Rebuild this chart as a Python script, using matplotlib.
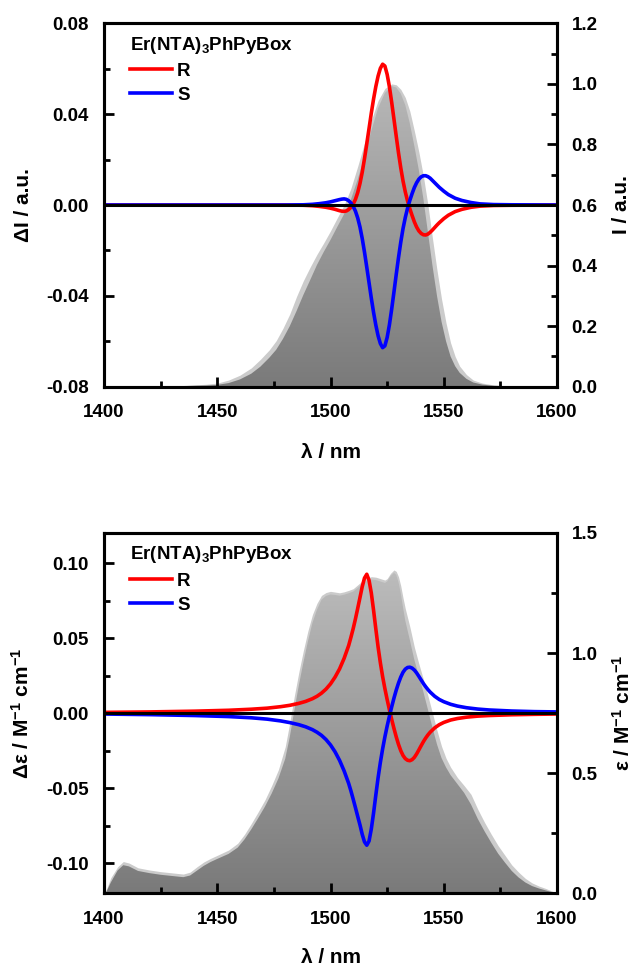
import numpy as np
import matplotlib
matplotlib.use("Agg")
import matplotlib.pyplot as plt
from matplotlib.patches import PathPatch
from matplotlib.colors import LinearSegmentedColormap
from matplotlib.ticker import MultipleLocator, FormatStrFormatter

plt.rcParams['font.family'] = ['Liberation Sans', 'DejaVu Sans']
plt.rcParams['font.weight'] = 'bold'
plt.rcParams['axes.unicode_minus'] = False
plt.rcParams['mathtext.fontset'] = 'custom'
plt.rcParams['mathtext.rm'] = 'Liberation Sans:bold'
plt.rcParams['mathtext.bf'] = 'Liberation Sans:bold'
plt.rcParams['mathtext.it'] = 'Liberation Sans:bold'

# ---------------- Top panel: CPL (ΔI) and emission (I) ----------------
cpl_wl = [1400, 1450, 1480, 1488, 1492, 1495, 1498, 1500, 1502, 1504, 1505, 1506, 1507, 1508, 1509,
          1510, 1511, 1512, 1513, 1514, 1515, 1516, 1517, 1518, 1519, 1520, 1521, 1522, 1523, 1524,
          1525, 1526, 1527, 1528, 1529, 1530, 1531, 1532, 1533, 1534, 1535, 1536, 1537, 1538, 1539,
          1540, 1541, 1542, 1543, 1544, 1545, 1546, 1547, 1548, 1550, 1552, 1555, 1558, 1562, 1566,
          1572, 1580, 1600]
cpl_R = [0.0, 0.0, 0.0, -0.0001, -0.0003, -0.0006, -0.0010, -0.0014, -0.0019, -0.0025, -0.0027, -0.0028,
         -0.0026, -0.0020, -0.0010, 0.0004, 0.0025, 0.0055, 0.0095, 0.0145, 0.0205, 0.0270, 0.0337,
         0.0405, 0.0467, 0.0522, 0.0568, 0.0602, 0.0620, 0.0612, 0.0575, 0.0520, 0.0452, 0.0378, 0.0303,
         0.0230, 0.0164, 0.0106, 0.0058, 0.0018, -0.0016, -0.0046, -0.0074, -0.0097, -0.0114, -0.0125,
         -0.0131, -0.0132, -0.0128, -0.0120, -0.0110, -0.0099, -0.0088, -0.0078, -0.0060, -0.0045,
         -0.0029, -0.0019, -0.0010, -0.0005, -0.0002, -0.0001, 0.0]
cpl_S = [0.0, 0.0, 0.0, 0.0001, 0.0003, 0.0006, 0.0010, 0.0014, 0.0019, 0.0024, 0.0026, 0.0027,
         0.0025, 0.0019, 0.0009, -0.0006, -0.0027, -0.0057, -0.0097, -0.0148, -0.0208, -0.0274, -0.0342,
         -0.0410, -0.0473, -0.0529, -0.0576, -0.0610, -0.0628, -0.0620, -0.0583, -0.0527, -0.0458,
         -0.0383, -0.0306, -0.0232, -0.0164, -0.0104, -0.0055, -0.0014, 0.0020, 0.0050, 0.0077,
         0.0098, 0.0114, 0.0124, 0.0129, 0.0129, 0.0125, 0.0118, 0.0108, 0.0098, 0.0088, 0.0078,
         0.0061, 0.0046, 0.0030, 0.0020, 0.0011, 0.0005, 0.0002, 0.0001, 0.0]

em_wl = [1400, 1420, 1435, 1445, 1450, 1455, 1460, 1465, 1469, 1473, 1476, 1479, 1482, 1485, 1488,
         1491, 1494, 1497, 1500, 1503, 1506, 1509, 1512, 1515, 1518, 1521, 1524, 1527, 1529, 1531,
         1533, 1535, 1537, 1539, 1541, 1543, 1545, 1547, 1549, 1551, 1553, 1555, 1557, 1560, 1563,
         1567, 1572, 1580, 1600]
em_outer = [0.000, 0.001, 0.004, 0.008, 0.012, 0.022, 0.038, 0.062, 0.090, 0.122, 0.152, 0.193, 0.240,
            0.298, 0.350, 0.395, 0.437, 0.475, 0.515, 0.558, 0.600, 0.655, 0.728, 0.805, 0.880, 0.945,
            0.985, 1.000, 0.997, 0.982, 0.955, 0.910, 0.845, 0.775, 0.695, 0.600, 0.490, 0.385, 0.290,
            0.210, 0.145, 0.100, 0.068, 0.040, 0.022, 0.012, 0.006, 0.002, 0.000]
em_inner = [0.000, 0.000, 0.002, 0.004, 0.006, 0.012, 0.024, 0.043, 0.066, 0.096, 0.122, 0.158, 0.200,
            0.250, 0.303, 0.352, 0.402, 0.445, 0.485, 0.528, 0.570, 0.618, 0.685, 0.760, 0.845, 0.920,
            0.970, 0.993, 0.988, 0.968, 0.930, 0.870, 0.795, 0.715, 0.620, 0.510, 0.400, 0.300, 0.215,
            0.150, 0.100, 0.068, 0.046, 0.026, 0.014, 0.007, 0.003, 0.001, 0.000]

# ---------------- Bottom panel: CD (Δε) and absorption (ε) ----------------
cd_wl = [1400, 1420, 1440, 1455, 1465, 1472, 1478, 1482, 1486, 1489, 1492, 1494, 1496, 1498, 1500,
         1502, 1504, 1506, 1508, 1509, 1510, 1511, 1512, 1513, 1514, 1515, 1516, 1517, 1518, 1519,
         1520, 1521, 1522, 1523, 1524, 1525, 1526, 1527, 1528, 1529, 1530, 1531, 1532, 1533, 1534,
         1535, 1536, 1537, 1538, 1539, 1540, 1541, 1542, 1543, 1544, 1546, 1548, 1550, 1553, 1556,
         1560, 1565, 1570, 1580, 1590, 1600]
cd_R = [0.0005, 0.0008, 0.0013, 0.0019, 0.0026, 0.0033, 0.0043, 0.0052, 0.0065, 0.0078, 0.0096, 0.0112,
        0.0133, 0.0160, 0.0195, 0.0240, 0.0295, 0.0365, 0.0450, 0.0505, 0.0563, 0.0628, 0.0698, 0.0770,
        0.0843, 0.0900, 0.0925, 0.0885, 0.0800, 0.0685, 0.0560, 0.0440, 0.0335, 0.0243, 0.0163, 0.0090,
        0.0022, -0.0042, -0.0102, -0.0158, -0.0208, -0.0250, -0.0282, -0.0303, -0.0314, -0.0317,
        -0.0310, -0.0295, -0.0272, -0.0245, -0.0217, -0.0190, -0.0166, -0.0145, -0.0127, -0.0098,
        -0.0077, -0.0062, -0.0046, -0.0036, -0.0027, -0.0020, -0.0016, -0.0011, -0.0008, -0.0006]
cd_S = [-0.0006, -0.0010, -0.0016, -0.0023, -0.0031, -0.0040, -0.0052, -0.0063, -0.0077, -0.0091,
        -0.0110, -0.0127, -0.0148, -0.0176, -0.0212, -0.0258, -0.0315, -0.0385, -0.0468, -0.0518,
        -0.0573, -0.0630, -0.0688, -0.0745, -0.0808, -0.0858, -0.0880, -0.0852, -0.0772, -0.0665,
        -0.0545, -0.0430, -0.0328, -0.0238, -0.0158, -0.0086, -0.0020, 0.0042, 0.0100, 0.0153,
        0.0200, 0.0240, 0.0272, 0.0293, 0.0304, 0.0306, 0.0300, 0.0287, 0.0268, 0.0245, 0.0221,
        0.0197, 0.0176, 0.0157, 0.0140, 0.0112, 0.0091, 0.0076, 0.0059, 0.0047, 0.0036, 0.0027,
        0.0021, 0.0014, 0.0010, 0.0008]

abs_wl = [1400, 1401, 1403, 1406, 1408.5, 1411, 1415, 1420, 1425, 1430, 1435, 1438, 1441, 1444, 1447,
          1450, 1455, 1459, 1462, 1465, 1468, 1471, 1474, 1477, 1480, 1482, 1484, 1486, 1488, 1490,
          1492, 1494, 1496, 1498, 1500, 1502, 1504, 1506, 1508, 1510, 1512, 1514, 1516, 1518, 1520,
          1522, 1524, 1525, 1526.5, 1528, 1529, 1530, 1531, 1532, 1533, 1535, 1537, 1539, 1541, 1543,
          1545, 1547, 1549, 1551, 1553, 1556, 1559, 1562, 1565, 1568, 1571, 1574, 1577, 1580, 1583,
          1586, 1589, 1592, 1595, 1598, 1600]
abs_outer = [0.000, 0.015, 0.065, 0.110, 0.132, 0.126, 0.106, 0.097, 0.090, 0.085, 0.080, 0.088, 0.110,
             0.130, 0.145, 0.158, 0.180, 0.208, 0.245, 0.290, 0.338, 0.388, 0.448, 0.515, 0.610, 0.710,
             0.820, 0.920, 1.010, 1.092, 1.160, 1.207, 1.240, 1.252, 1.257, 1.254, 1.251, 1.255, 1.261,
             1.268, 1.284, 1.300, 1.312, 1.318, 1.316, 1.310, 1.304, 1.310, 1.332, 1.346, 1.340, 1.318,
             1.280, 1.230, 1.185, 1.110, 1.025, 0.955, 0.890, 0.822, 0.750, 0.678, 0.612, 0.562, 0.525,
             0.482, 0.448, 0.412, 0.350, 0.295, 0.245, 0.198, 0.158, 0.118, 0.088, 0.062, 0.043, 0.030,
             0.020, 0.008, 0.003]
abs_inner = [0.000, 0.005, 0.045, 0.095, 0.117, 0.112, 0.093, 0.084, 0.077, 0.072, 0.067, 0.074, 0.094,
             0.114, 0.130, 0.143, 0.164, 0.190, 0.224, 0.266, 0.312, 0.360, 0.415, 0.478, 0.560, 0.650,
             0.760, 0.865, 0.960, 1.048, 1.125, 1.180, 1.222, 1.238, 1.244, 1.242, 1.239, 1.243, 1.249,
             1.256, 1.271, 1.288, 1.300, 1.306, 1.304, 1.298, 1.292, 1.298, 1.320, 1.334, 1.326, 1.295,
             1.250, 1.190, 1.135, 1.055, 0.972, 0.905, 0.838, 0.765, 0.690, 0.620, 0.563, 0.524, 0.492,
             0.455, 0.418, 0.370, 0.310, 0.258, 0.210, 0.165, 0.128, 0.093, 0.066, 0.045, 0.030, 0.020,
             0.012, 0.004, 0.001]

legend_title = r'Er(NTA)$_3$PhPyBox'
labels = ['R', 'S']
colors = ['#ff0000', '#0000ff']

FS_TICK = 13.5
FS_LAB = 15
LW = 2.2
LW_CURVE = 2.6

fig = plt.figure(figsize=(6.32, 9.68), dpi=100)


def grad_fill(ax2, x, y, ylim):
    poly = ax2.fill_between(x, 0, y, facecolor='none', edgecolor='none')
    path = poly.get_paths()[0]
    patch = PathPatch(path, transform=ax2.transData, facecolor='none', edgecolor='none')
    ax2.add_patch(patch)
    cmap = LinearSegmentedColormap.from_list('g', ['#7a7a7a', '#c4c4c4'])
    grad = np.linspace(0, 1, 256).reshape(-1, 1)
    im = ax2.imshow(grad, extent=[1400, 1600, ylim[0], ylim[1]], origin='lower',
                    aspect='auto', cmap=cmap, zorder=1)
    im.set_clip_path(patch)


def make_panel(rect, x_cd, cd_list, left_lim, left_major, left_minor, left_fmt,
               x_sp, sp_outer, sp_inner, right_lim, right_major, right_minor, right_fmt,
               left_label, right_label, xlab_y):
    ax = fig.add_axes(rect)
    ax2 = ax.twinx()
    ax.set_zorder(ax2.get_zorder() + 1)
    ax.patch.set_visible(False)

    # spectrum (right axis)
    ax2.fill_between(x_sp, 0, sp_outer, color='#cbcbcb', lw=0, zorder=0)
    grad_fill(ax2, x_sp, sp_inner, right_lim)
    ax2.set_ylim(*right_lim)
    ax2.set_xlim(1400, 1600)

    # CD / CPL (left axis)
    for vals, lab, c in zip(cd_list, labels, colors):
        ax.plot(x_cd, vals, color=c, lw=LW_CURVE, label=lab, zorder=2, solid_joinstyle='round')
    ax.axhline(0, color='black', lw=LW, zorder=3)
    ax.set_xlim(1400, 1600)
    ax.set_ylim(*left_lim)

    for a in (ax, ax2):
        for s in a.spines.values():
            s.set_linewidth(LW)
    ax.xaxis.set_major_locator(MultipleLocator(50))
    ax.xaxis.set_minor_locator(MultipleLocator(25))
    ax.yaxis.set_major_locator(MultipleLocator(left_major))
    ax.yaxis.set_minor_locator(MultipleLocator(left_minor))
    ax.yaxis.set_major_formatter(FormatStrFormatter(left_fmt))
    ax2.yaxis.set_major_locator(MultipleLocator(right_major))
    ax2.yaxis.set_minor_locator(MultipleLocator(right_minor))
    ax2.yaxis.set_major_formatter(FormatStrFormatter(right_fmt))

    ax.tick_params(axis='both', which='both', direction='in', top=False, right=False,
                   width=2.0, labelsize=FS_TICK)
    ax.tick_params(axis='both', which='major', length=7.5)
    ax.tick_params(axis='both', which='minor', length=4.5)
    ax.tick_params(axis='y', which='major', pad=11)
    ax.tick_params(axis='x', which='major', pad=12.5)
    ax2.tick_params(axis='y', which='both', direction='in', width=2.0, labelsize=FS_TICK)
    ax2.tick_params(axis='y', which='major', length=7.5, pad=10.5)
    ax2.tick_params(axis='y', which='minor', length=4.5)
    ax2.tick_params(axis='x', which='both', bottom=False, top=False, labelbottom=False)

    ax.set_xlabel('λ / nm', fontsize=FS_LAB, fontweight='bold')
    ax.set_ylabel(left_label, fontsize=FS_LAB, fontweight='bold')
    ax2.set_ylabel(right_label, fontsize=FS_LAB, fontweight='bold')
    ax.xaxis.set_label_coords(0.5, xlab_y)
    ax.yaxis.set_label_coords(-0.157, 0.5)
    ax2.yaxis.set_label_coords(1.121, 0.5)

    leg = ax.legend(title=legend_title, loc='upper left', bbox_to_anchor=(0.049, 0.9785),
                    frameon=False, fontsize=FS_TICK, title_fontsize=FS_TICK,
                    handlelength=2.24, handletextpad=0.27, labelspacing=0.37,
                    borderpad=0.2, borderaxespad=0.0, alignment='left')
    for t in leg.get_texts():
        t.set_fontweight('bold')
    leg.get_title().set_fontweight('bold')
    for h in leg.get_lines():
        h.set_linewidth(2.6)
    return ax, ax2


make_panel([0.1646, 0.6005, 0.7168, 0.3754], cpl_wl, [cpl_R, cpl_S],
           (-0.08, 0.08), 0.04, 0.02, '%.2f',
           em_wl, em_outer, em_inner, (0, 1.2), 0.2, 0.1, '%.1f',
           'ΔI / a.u.', 'I / a.u.', -0.155)

make_panel([0.1646, 0.0772, 0.7168, 0.3722], cd_wl, [cd_R, cd_S],
           (-0.12, 0.12), 0.05, 0.025, '%.2f',
           abs_wl, abs_outer, abs_inner, (0, 1.5), 0.5, 0.25, '%.1f',
           r'Δε / M$^{\mathbf{-1}}$ cm$^{\mathbf{-1}}$', r'ε / M$^{\mathbf{-1}}$ cm$^{\mathbf{-1}}$',
           -0.152)

fig.savefig('out.png', dpi=100)
